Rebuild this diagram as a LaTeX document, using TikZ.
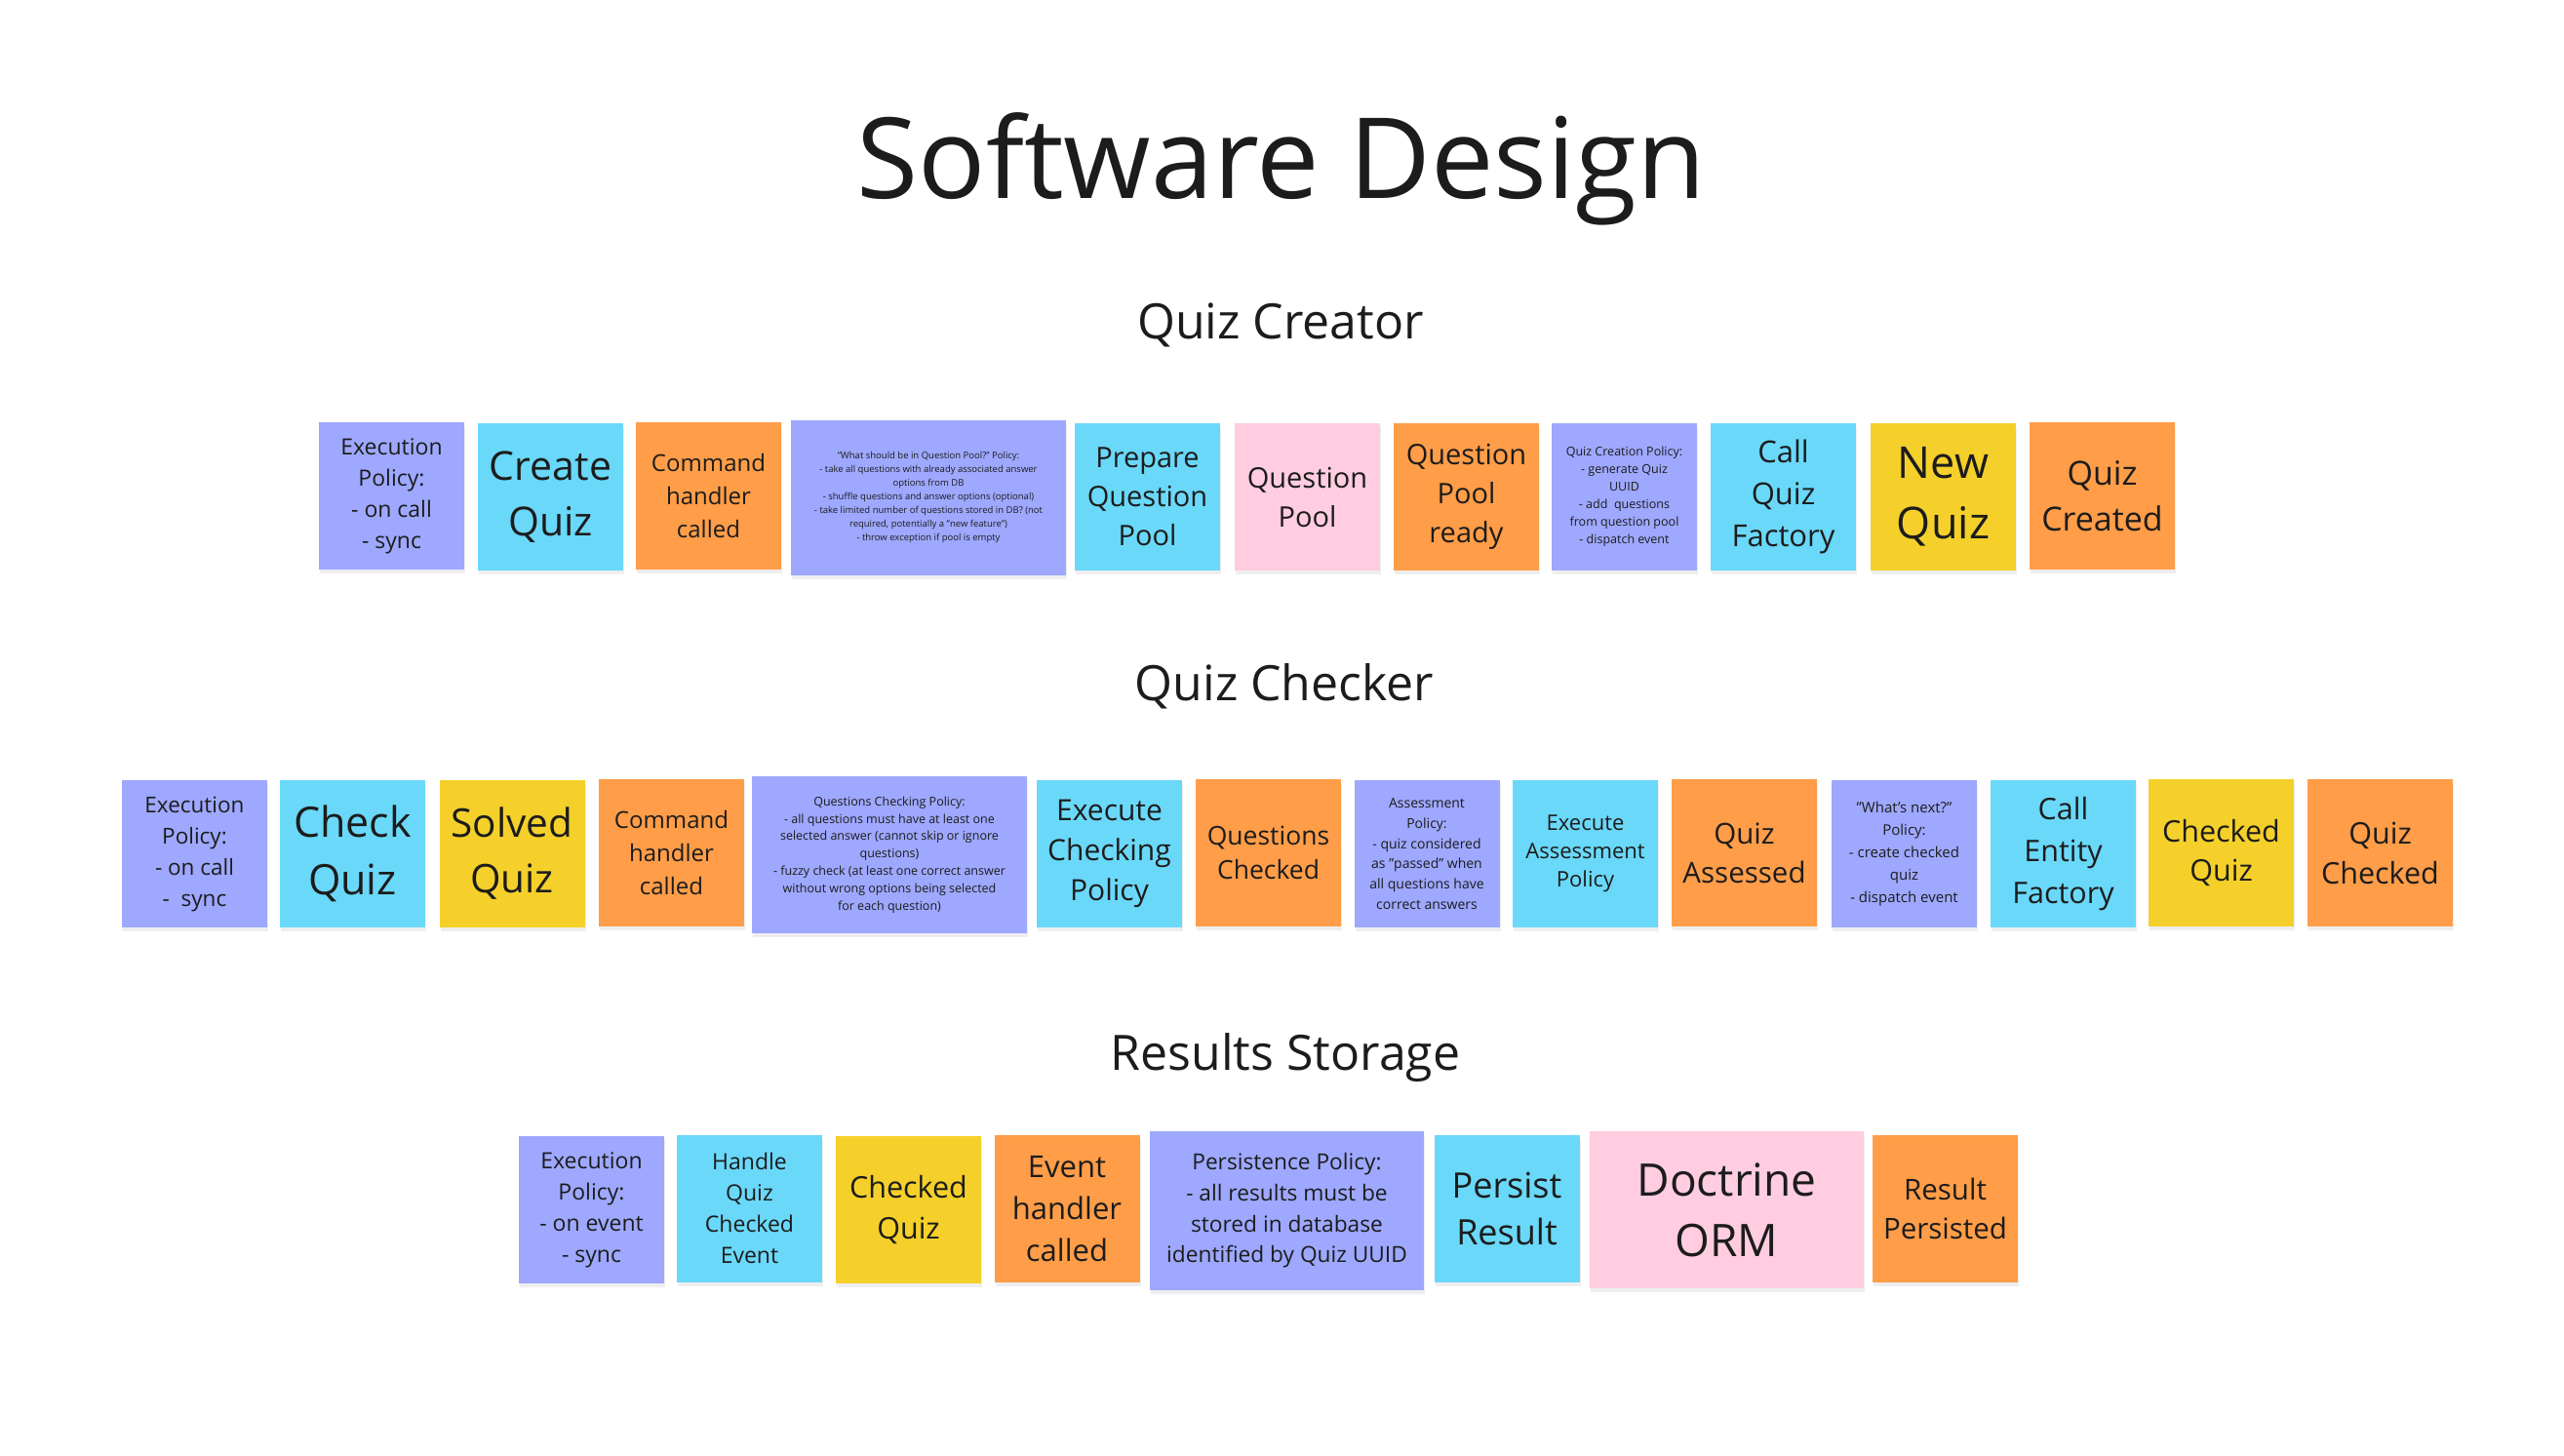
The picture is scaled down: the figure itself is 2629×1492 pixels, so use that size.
\documentclass[tikz,border=0pt]{standalone}
\usepackage{fontspec}
\setmainfont{Open Sans}
\usetikzlibrary{shadows}
\definecolor{cpur}{HTML}{9EA8FE}
\definecolor{ccyan}{HTML}{6AD8F9}
\definecolor{corange}{HTML}{FF9D48}
\definecolor{cyellow}{HTML}{F5D02A}
\definecolor{cpink}{HTML}{FFCCE0}
\definecolor{ink}{HTML}{1C1C1C}
\newcommand\dq{\symbol{34}}
\newcommand\sq{\symbol{39}}
\tikzset{
  sticky/.style={rectangle, inner sep=3pt, align=center, text=ink,
    minimum width=149pt, minimum height=151pt,
    drop shadow={shadow xshift=1pt, shadow yshift=-4pt, opacity=0.13}},
  wide/.style={minimum width=282pt, minimum height=160pt},
  fs/.style 2 args={font=\fontsize{#1}{#2}\selectfont},
  heading/.style={anchor=base, text=ink},
}
\begin{document}
\begin{tikzpicture}[x=1pt,y=-1pt]
\useasboundingbox[fill=white] (0,0) rectangle (2629,1492);

% Titles
\node[heading, font=\fontsize{115}{136}\selectfont] (title) at (1314,203) {Software Design};
\node[heading, font=\fontsize{50}{60}\selectfont] (h1) at (1313,347) {Quiz Creator};
\node[heading, font=\fontsize{50}{60}\selectfont] (h2) at (1317,718) {Quiz Checker};
\node[heading, font=\fontsize{50}{60}\selectfont] (h3) at (1318,1097) {Results Storage};

% Row 1 : Quiz Creator
\node[sticky, fill=cpur, fs={23}{32}] (ep1) at (401.5,508.5) {Execution\\Policy:\\- on call\\- sync};
\node[sticky, fill=ccyan, fs={41}{57}] (cq) at (564.5,509.5) {Create\\Quiz};
\node[sticky, fill=corange, fs={24}{34}] (chc1) at (726.5,508.5) {Command\\handler\\called};
\node[sticky, wide, fill=cpur, fs={9.5}{14}, minimum height=159pt] (note1) at (952,510.5) {\dq What should be in Question Pool?\dq{} Policy:\\- take all questions with already associated answer\\options from DB\\- shuffle questions and answer options (optional)\\- take limited number of questions stored in DB? (not\\required, potentially a \dq new feature\dq)\\- throw exception if pool is empty};
\node[sticky, fill=ccyan, fs={29}{40}] (pqp) at (1176.5,509.5) {Prepare\\Question\\Pool};
\node[sticky, fill=cpink, fs={29}{40}] (qp) at (1340.5,509.5) {Question\\Pool};
\node[sticky, fill=corange, fs={29}{40}] (qpr) at (1503.5,509.5) {Question\\Pool\\ready};
\node[sticky, fill=cpur, fs={12.5}{18}] (qcp) at (1665.5,509.5) {Quiz Creation Policy:\\- generate Quiz\\UUID\\- add\ \ questions\\from question pool\\- dispatch event};
\node[sticky, fill=ccyan, fs={31}{43}] (cqf) at (1828.5,509.5) {Call\\Quiz\\Factory};
\node[sticky, fill=cyellow, fs={45}{62}] (nq) at (1992.5,509.5) {New\\Quiz};
\node[sticky, fill=corange, fs={34}{47}] (qcr) at (2155.5,508.5) {Quiz\\Created};

% Row 2 : Quiz Checker
\node[sticky, fill=cpur, fs={22.5}{32}] (ep2) at (199.5,875.5) {Execution\\Policy:\\- on call\\-\ \ sync};
\node[sticky, fill=ccyan, fs={43}{59}] (ckq) at (361.5,875.5) {Check\\Quiz};
\node[sticky, fill=cyellow, fs={40.5}{57}] (sq) at (525,875.5) {Solved\\Quiz};
\node[sticky, fill=corange, fs={24}{34}] (chc2) at (688.5,874.5) {Command\\handler\\called};
\node[sticky, wide, fill=cpur, fs={12.5}{17.8}, minimum height=161pt] (note2) at (912,876.5) {Questions Checking Policy:\\- all questions must have at least one\\selected answer (cannot skip or ignore\\questions)\\- fuzzy check (at least one correct answer\\without wrong options being selected\\for each question)};
\node[sticky, fill=ccyan, fs={30}{41}] (ecp) at (1137.5,875.5) {Execute\\Checking\\Policy};
\node[sticky, fill=corange, fs={26.5}{35}] (qch) at (1300.5,874.5) {Questions\\Checked};
\node[sticky, fill=cpur, fs={14}{20.7}] (ap) at (1463,875.5) {Assessment\\Policy:\\- quiz considered\\as \dq passed\dq{} when\\all questions have\\correct answers};
\node[sticky, fill=ccyan, fs={22}{29}] (eap) at (1625.5,875.5) {Execute\\Assessment\\Policy};
\node[sticky, fill=corange, fs={29.5}{40}] (qa) at (1788.5,874.5) {Quiz\\Assessed};
\node[sticky, fill=cpur, fs={15}{23}] (wn) at (1952.5,875.5) {\dq What\sq s next?\dq\\Policy:\\- create checked\\quiz\\- dispatch event};
\node[sticky, fill=ccyan, fs={30.5}{43}] (cef) at (2115.5,875.5) {Call\\Entity\\Factory};
\node[sticky, fill=cyellow, fs={30.5}{40}] (ckq2) at (2277.5,874.5) {Checked\\Quiz};
\node[sticky, fill=corange, fs={30.5}{41}] (qck) at (2440.5,874.5) {Quiz\\Checked};

% Row 3 : Results Storage
\node[sticky, fill=cpur, fs={23}{32}] (ep3) at (606.5,1240.5) {Execution\\Policy:\\- on event\\- sync};
\node[sticky, fill=ccyan, fs={23}{32}] (hqce) at (768.5,1239) {Handle\\Quiz\\Checked\\Event};
\node[sticky, fill=cyellow, fs={30.5}{42}] (ckq3) at (931.5,1240.5) {Checked\\Quiz};
\node[sticky, fill=corange, fs={31}{43}] (ehc) at (1094,1239.5) {Event\\handler\\called};
\node[sticky, wide, fill=cpur, fs={22.7}{31.7}, minimum height=163pt, minimum width=281pt] (pp) at (1319.5,1241.5) {Persistence Policy:\\- all results must be\\stored in database\\identified by Quiz UUID};
\node[sticky, fill=ccyan, fs={36}{48.6}] (pr) at (1545,1239.5) {Persist\\Result};
\node[sticky, wide, fill=cpink, fs={46}{62}, minimum width=281pt, minimum height=161pt] (orm) at (1770.5,1240.5) {Doctrine\\ORM};
\node[sticky, fill=corange, fs={29.5}{40}] (rp) at (1994.5,1239.5) {Result\\Persisted};
\end{tikzpicture}
\end{document}
